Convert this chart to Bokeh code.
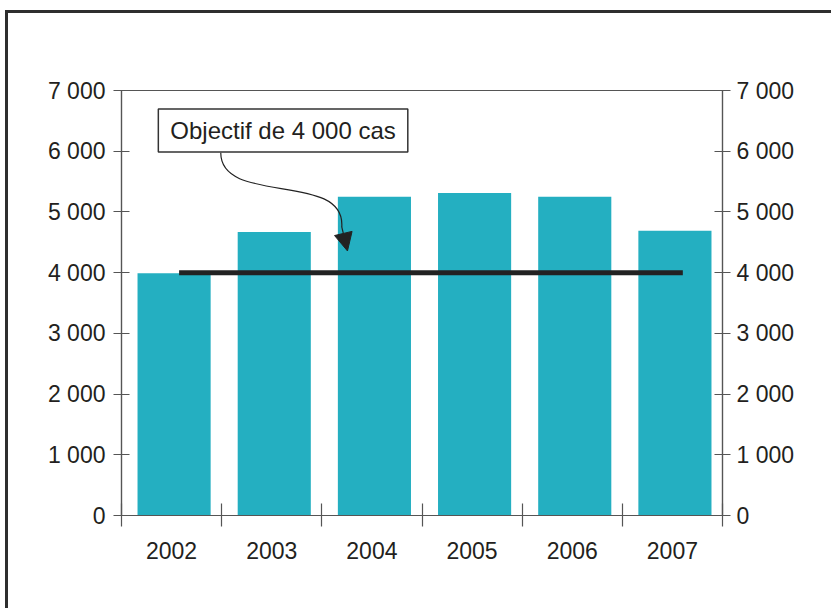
from bokeh.plotting import figure
from bokeh.models import (Range1d, LinearAxis, FixedTicker, Label, Arrow,
                          NormalHead)
from bokeh.embed import file_html
from bokeh.resources import INLINE

# Nombre de cas par année et objectif
annees = ["2002", "2003", "2004", "2005", "2006", "2007"]
cas = [3990, 4670, 5250, 5310, 5250, 4690]
objectif = 4000
objectif_texte = "Objectif de 4 000 cas"
y_ticks = [0, 1000, 2000, 3000, 4000, 5000, 6000, 7000]
y_labels = ["0", "1 000", "2 000", "3 000", "4 000", "5 000", "6 000", "7 000"]

FONT = "Liberation Sans"
TXT = "#231f20"
AXC = "#555555"
TEAL = "#24afc1"

n = len(annees)
centres = [i + 0.5 for i in range(n)]

p = figure(x_range=Range1d(0, n), y_range=Range1d(0, 7000),
           frame_width=601, frame_height=425,
           min_border_left=113, min_border_right=109,
           min_border_top=77, min_border_bottom=93,
           output_backend="svg", toolbar_location=None,
           background_fill_color="white", border_fill_color="white")
p.margin = (10, 0, 0, 5)
p.styles = {"border-left": "3px solid #2e2e2e", "border-top": "3px solid #2e2e2e"}
p.grid.visible = False
p.outline_line_color = AXC
p.outline_line_width = 1.2

# barres, légèrement décalées vers la droite dans chaque case
decalage = 0.025
p.vbar(x=[c + decalage for c in centres], top=cas, width=0.73,
       fill_color=TEAL, line_color=None)

# ligne de l'objectif
p.segment(x0=[0.575], y0=[objectif], x1=[5.604], y1=[objectif],
          line_color="#222222", line_width=5, line_cap="butt")

# axe des années : séparateurs en petites graduations, libellés centrés
xa = p.xaxis[0]
xa.ticker = FixedTicker(ticks=centres, minor_ticks=list(range(n + 1)))
xa.major_label_overrides = {c: a for c, a in zip(centres, annees)}
xa.major_tick_in = 0
xa.major_tick_out = 0
xa.minor_tick_in = 12
xa.minor_tick_out = 11
xa.minor_tick_line_color = AXC
xa.minor_tick_line_width = 1.2
xa.axis_line_color = AXC
xa.axis_line_width = 1.2
xa.major_label_standoff = 15

def style_y(ax):
    ax.ticker = FixedTicker(ticks=y_ticks)
    ax.major_label_overrides = {t: l for t, l in zip(y_ticks, y_labels)}
    ax.major_tick_in = 8
    ax.major_tick_out = 8
    ax.minor_tick_in = 0
    ax.minor_tick_out = 0
    ax.major_tick_line_color = AXC
    ax.major_tick_line_width = 1.2
    ax.axis_line_color = AXC
    ax.axis_line_width = 1.2

ya = p.yaxis[0]
style_y(ya)
ya.major_label_standoff = 8
ya2 = LinearAxis()
style_y(ya2)
ya2.major_label_standoff = 6
p.add_layout(ya2, "right")

for ax in (xa, ya, ya2):
    ax.major_label_text_font = FONT
    ax.major_label_text_font_size = "23px"
    ax.major_label_text_color = TXT

# encadré de l'objectif et sa flèche
p.add_layout(Label(x=1.613, y=6340, text=objectif_texte,
                   text_align="center", text_baseline="middle",
                   text_font=FONT, text_font_size="24px", text_color=TXT,
                   background_fill_color="white",
                   border_line_color="#333333", border_line_width=1.5,
                   padding=dict(left=12, right=12, top=8, bottom=8)))
p.bezier(x0=[0.991], y0=[5973], x1=[2.199], y1=[4753],
         cx0=[0.991], cy0=[5099], cx1=[2.239], cy1=[5676],
         line_color="#222222", line_width=1.2)
p.add_layout(Arrow(x_start=2.199, y_start=4753, x_end=2.256, y_end=4357,
                   line_color="#222222", line_width=1.2,
                   end=NormalHead(size=18, fill_color="#222222",
                                  line_color="#222222")))

open("out.html", "w").write(file_html(p, INLINE))
